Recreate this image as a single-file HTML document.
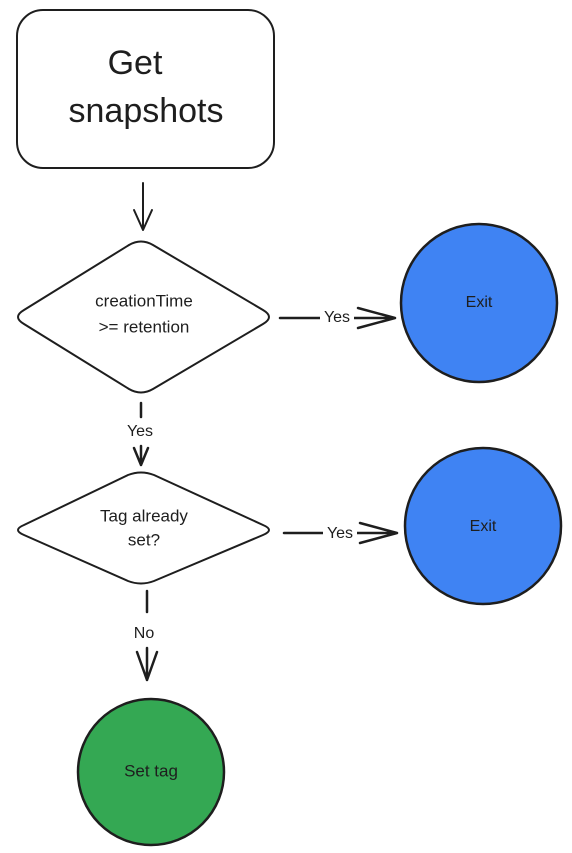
<!DOCTYPE html>
<html><head><meta charset="utf-8"><style>
html,body{margin:0;padding:0;background:#fff;}
svg{display:block;}
text{font-family:"Liberation Sans",sans-serif;fill:#1e1e1e;text-anchor:middle;dominant-baseline:middle;}
</style></head><body>
<svg width="572" height="853" viewBox="0 0 572 853" xmlns="http://www.w3.org/2000/svg">
<g fill="none" stroke="#1e1e1e" stroke-width="2" stroke-linecap="round" stroke-linejoin="round">
<rect x="17" y="10" width="257" height="158" rx="26" fill="#fff"/>
<path d="M143 183 L143 230 M134 210 L143 230 L152 210"/>
<path d="M129 245 Q141 238 153 245 L263 310 Q275 317 263 324 L153 389 Q141 396 129 389 L24 324 Q12 317 24 310 Z" fill="#fff"/>
<path d="M280 318 L395 318 M358 308 L395 318 L358 328" stroke-width="2.5"/>
<path d="M141 403 L141 417 M141 446 L141 465 M134 448 L141 465 L148 448" stroke-width="2.5"/>
<path d="M128 475 Q141 470 154 475 L263 525 Q275 530 263 535 L154 581 Q141 586 128 581 L24 535 Q12 530 24 525 Z" fill="#fff"/>
<path d="M284 533 L397 533 M360 523 L397 533 L360 543" stroke-width="2.5"/>
<path d="M147 591 L147 612 M147 648 L147 680 M137 652 L147 680 L157 652" stroke-width="2.5"/>
</g>
<ellipse cx="479" cy="303" rx="78" ry="79" fill="#3f83f3" stroke="#1e1e1e" stroke-width="2.5"/>
<ellipse cx="483" cy="526" rx="78" ry="78" fill="#3f83f3" stroke="#1e1e1e" stroke-width="2.5"/>
<ellipse cx="151" cy="772" rx="73" ry="73" fill="#34a853" stroke="#1e1e1e" stroke-width="2.5"/>
<text x="135" y="65" font-size="34">Get</text>
<text x="146" y="113" font-size="34">snapshots</text>
<text x="144" y="302" font-size="17">creationTime</text>
<text x="144" y="328" font-size="17">&gt;= retention</text>
<rect x="320" y="308" width="34" height="18" fill="#fff"/>
<text x="337" y="318" font-size="16">Yes</text>
<text x="479" y="303" font-size="16">Exit</text>
<text x="140" y="432" font-size="16">Yes</text>
<text x="144" y="517" font-size="17">Tag already</text>
<text x="144" y="541" font-size="17">set?</text>
<rect x="323" y="524" width="34" height="18" fill="#fff"/>
<text x="340" y="534" font-size="16">Yes</text>
<text x="483" y="527" font-size="16">Exit</text>
<text x="144" y="634" font-size="16">No</text>
<text x="151" y="772" font-size="17">Set tag</text>
</svg>
</body></html>
